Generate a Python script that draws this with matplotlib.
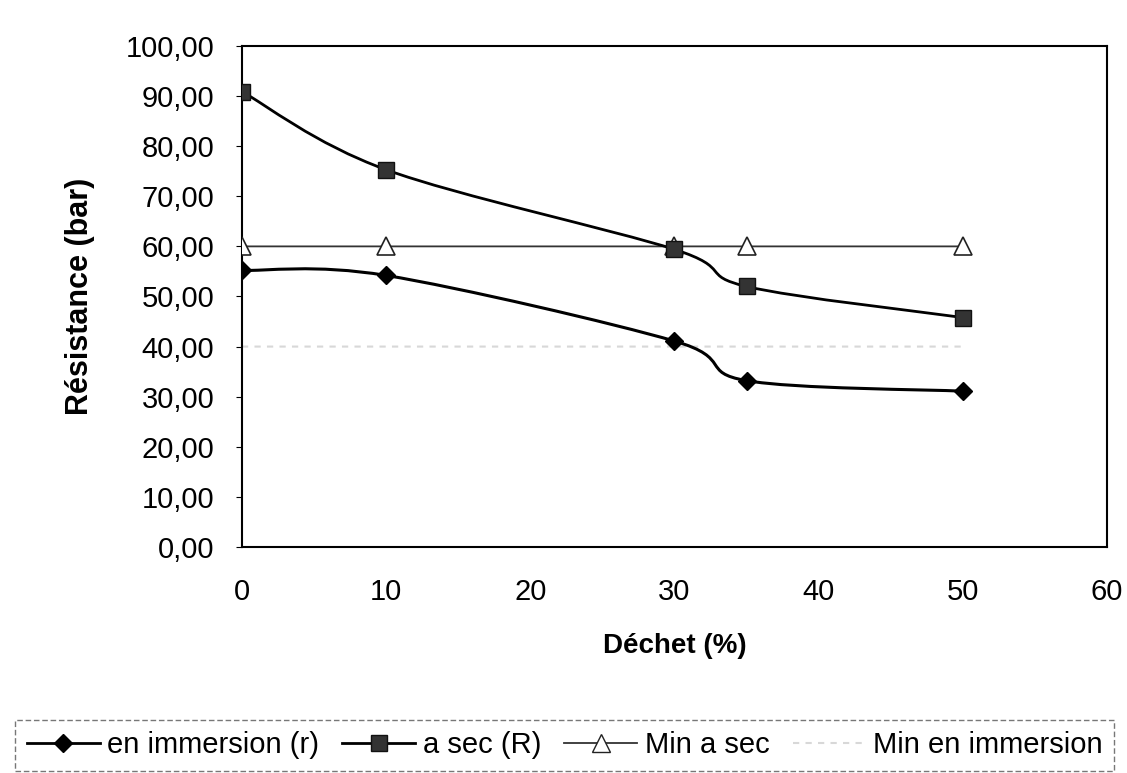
import matplotlib
matplotlib.use('Agg')
import matplotlib.pyplot as plt
from matplotlib.path import Path
from matplotlib.patches import PathPatch
from matplotlib.lines import Line2D
from matplotlib.ticker import FuncFormatter
import numpy as np

plt.rcParams['font.family'] = ['Liberation Sans', 'DejaVu Sans']

dechet = [0, 10, 30, 35, 50]
immersion = [55.2, 54.2, 41.1, 33.2, 31.1]
sec = [90.9, 75.3, 59.4, 52.0, 45.8]
min_sec = [60, 60, 60, 60, 60]
min_immersion = [40, 40, 40, 40, 40]


def smooth_path(x, y):
    # excel-like smoothed line : catmull-rom segments as cubic bezier
    pts = np.column_stack([x, y]).astype(float)
    n = len(pts)
    verts = [pts[0]]
    codes = [Path.MOVETO]
    for i in range(n - 1):
        p0 = pts[max(i - 1, 0)]
        p1 = pts[i]
        p2 = pts[i + 1]
        p3 = pts[min(i + 2, n - 1)]
        c1 = p1 + (p2 - p0) / 6
        c2 = p2 - (p3 - p1) / 6
        verts += [c1, c2, p2]
        codes += [Path.CURVE4] * 3
    return Path(verts, codes)


fig = plt.figure(figsize=(11.27, 7.73), dpi=100)
ax = fig.add_axes([0.2147, 0.2924, 0.9822 - 0.2147, 0.9405 - 0.2924])

ax.add_patch(PathPatch(smooth_path(dechet, min_immersion), fill=False,
                       edgecolor='#d8d8d8', lw=1.5, linestyle=(0, (3, 3)), zorder=2))
ax.add_patch(PathPatch(smooth_path(dechet, min_sec), fill=False,
                       edgecolor='#333333', lw=1.3, zorder=2))
ax.add_patch(PathPatch(smooth_path(dechet, sec), fill=False,
                       edgecolor='black', lw=2, zorder=3))
ax.add_patch(PathPatch(smooth_path(dechet, immersion), fill=False,
                       edgecolor='black', lw=2.2, zorder=3))

ax.plot(dechet, min_sec, ls='none', marker='^', ms=13, mfc='white', mec='#222222', mew=1.2, zorder=4)
ax.plot(dechet, sec, ls='none', marker='s', ms=11, mfc='#333333', mec='#111111', zorder=4)
ax.plot(dechet, immersion, ls='none', marker='D', ms=9.5, mfc='black', mec='black', zorder=4)

ax.set_xlim(0, 60)
ax.set_ylim(0, 100)
ax.set_xticks(range(0, 61, 10))
ax.set_yticks(range(0, 101, 10))
ax.yaxis.set_major_formatter(FuncFormatter(lambda v, p: f'{v:.2f}'.replace('.', ',')))
ax.tick_params(axis='y', direction='out', length=4, labelsize=21, pad=16)
ax.tick_params(axis='x', length=0, labelsize=21, pad=22)
for s in ax.spines.values():
    s.set_linewidth(1.5)
    s.set_color('black')

ax.set_xlabel('Déchet (%)', fontsize=20, fontweight='bold')
ax.set_ylabel('Résistance (bar)', fontsize=22, fontweight='bold')
ax.xaxis.set_label_coords(0.5, -0.172)
ax.yaxis.set_label_coords(-0.170, 0.5)

handles = [
    Line2D([], [], color='black', lw=2, marker='D', ms=9.5, mfc='black'),
    Line2D([], [], color='black', lw=2, marker='s', ms=11, mfc='#333333', mec='#111111'),
    Line2D([], [], color='#333333', lw=1.3, marker='^', ms=13, mfc='white', mec='#222222'),
    Line2D([], [], color='#d8d8d8', lw=1.5, linestyle=(0, (3, 3))),
]
labels = ['en immersion (r)', 'a sec (R)', 'Min a sec', 'Min en immersion']
leg = fig.legend(handles, labels, loc='center', bbox_to_anchor=(0.501, 0.036), ncol=4,
                 fontsize=21, frameon=True, fancybox=False, handlelength=2.5,
                 handletextpad=0.25, columnspacing=0.8, borderpad=0.4)
leg.get_frame().set_edgecolor('#555555')
leg.get_frame().set_linewidth(1)
leg.get_frame().set_linestyle((0, (4, 2)))

fig.savefig('out.png', dpi=100)
